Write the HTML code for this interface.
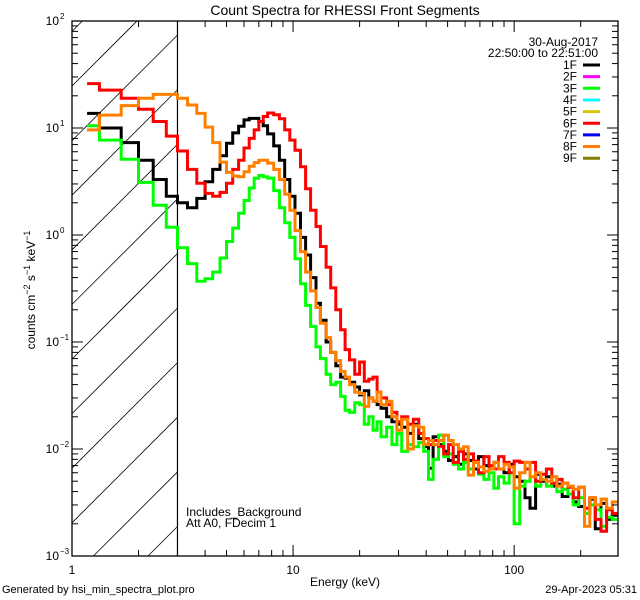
<!DOCTYPE html>
<html><head><meta charset="utf-8"><style>
html,body{margin:0;padding:0;background:#fff;overflow:hidden;}
svg{display:block;font-family:"Liberation Sans",sans-serif;}
</style></head><body>
<svg id="chart" width="640" height="600" viewBox="0 0 640 600" xmlns="http://www.w3.org/2000/svg">
<rect x="0" y="0" width="640" height="600" fill="#fff"/>
<text x="345" y="15" font-size="14" text-anchor="middle">Count Spectra for RHESSI Front Segments</text>
<g id="hatch"></g>
<g id="series"></g>
<g id="axes"></g>
<text x="598" y="46" font-size="12" text-anchor="end">30-Aug-2017</text>
<text x="598" y="57" font-size="12" text-anchor="end">22:50:00 to 22:51:00</text>
<g id="legend"></g>
<text x="186" y="516" font-size="12">Includes_Background</text>
<text x="186" y="527" font-size="12">Att A0, FDecim 1</text>
<text x="345" y="586" font-size="12" text-anchor="middle">Energy (keV)</text>
<text transform="translate(35,290) rotate(-90)" font-size="12" text-anchor="middle">counts cm<tspan dy="-5" font-size="9">−2</tspan><tspan dy="5"> s</tspan><tspan dy="-5" font-size="9">−1</tspan><tspan dy="5"> keV</tspan><tspan dy="-5" font-size="9">−1</tspan></text>
<text x="2" y="593" font-size="11">Generated by hsi_min_spectra_plot.pro</text>
<text x="637" y="593" font-size="11" text-anchor="end">29-Apr-2023 05:31</text>
</svg>
<script>
const edges = [1.17,1.33,1.67,2,2.33,2.67,3,
3.33,3.67,4,4.33,4.67,5,
5.33,5.67,6,6.33,6.67,7,
7.33,7.67,8.17,8.67,9.17,9.67,
10.2,10.8,11.4,12,12.7,13.3,
14.1,14.8,15.6,16.4,17.2,18,
19,20,21,22,23,24,
25,26.5,28,29.5,31,33,
35,37,39,41,43,45.5,
48,50.5,53,56,59,62,
65.5,69,73,77,81,85,
90,95,100,106,112,118,
125,132,140,148,156,165,
175,185,196,208,220,233,
247,262,278,295];
const seg1F = [13.7,10,7.3,5.0,3.3,2.3,
2.0,1.8,2.2,3.15,4.1,5.5,
7.2,9.0,10.4,11.9,12.3,12.3,
11.5,10.5,8.8,6.8,5.0,3.3,
2.3,1.6,0.95,0.65,0.4,0.23,
0.16,0.1,0.08,0.06,0.047,0.046,
0.042,0.038,0.032,0.035,0.03,0.028,
0.026,0.024,0.02,0.018,0.017,0.016,
0.014,0.017,0.0125,0.0105,0.0066,0.013,
0.011,0.0095,0.0078,0.0085,0.0072,0.009,
0.0078,0.0065,0.0085,0.007,0.0065,0.0075,
0.0065,0.006,0.0072,0.0055,0.005,0.0035,
0.0028,0.0058,0.005,0.0055,0.0045,0.0047,
0.0036,0.0038,0.0032,0.0029,0.0025,0.0034,
0.0018,0.0031,0.0022,0.0024];
const seg3F = [10.5,7.7,5.1,3.1,1.9,1.18,
0.76,0.54,0.37,0.39,0.45,0.61,
0.87,1.16,1.6,2.1,2.75,3.4,
3.6,3.5,3.4,2.6,1.8,1.3,
0.95,0.6,0.35,0.22,0.14,0.09,
0.07,0.05,0.04,0.042,0.031,0.023,
0.022,0.027,0.026,0.017,0.02,0.015,
0.018,0.013,0.016,0.011,0.014,0.0095,
0.011,0.0105,0.0115,0.0095,0.0052,0.008,
0.0135,0.0085,0.009,0.0072,0.0065,0.0075,
0.0065,0.0075,0.0058,0.0052,0.006,0.0043,
0.0055,0.0048,0.006,0.002,0.0045,0.005,
0.0055,0.0045,0.0052,0.0045,0.0048,0.004,
0.0042,0.0038,0.003,0.0035,0.0025,0.003,
0.0027,0.0019,0.0023,0.0022];
const seg6F = [26,22.6,19,15,11.5,8.4,
6.1,4.1,3.05,2.45,2.3,2.5,
3.05,4.1,5.0,6.5,8.0,9.6,
11.5,12.8,13.8,13.3,12.2,9.6,
7.7,6.2,4.35,2.7,1.7,1.2,
0.78,0.5,0.32,0.2,0.13,0.085,
0.068,0.05,0.065,0.043,0.045,0.047,
0.034,0.03,0.026,0.022,0.018,0.02,
0.017,0.019,0.014,0.0125,0.011,0.012,
0.0106,0.009,0.011,0.0075,0.0095,0.008,
0.009,0.0077,0.006,0.0085,0.007,0.0065,
0.0085,0.0075,0.006,0.0077,0.0075,0.0065,
0.0075,0.005,0.0058,0.0065,0.0048,0.0052,
0.0048,0.0044,0.0035,0.0044,0.0028,0.0035,
0.0022,0.0017,0.0027,0.0025];
const seg8F = [9.6,13.2,16.2,19,20.6,20.6,
19,16.4,13.7,10.2,7.3,4.8,
3.85,3.55,3.5,3.9,4.4,4.75,
5.0,5.0,4.7,4.1,3.3,2.4,
1.7,1.1,0.7,0.45,0.3,0.21,
0.15,0.11,0.08,0.067,0.053,0.047,
0.04,0.034,0.033,0.025,0.03,0.028,
0.034,0.026,0.028,0.02,0.015,0.019,
0.01,0.0165,0.016,0.011,0.012,0.011,
0.012,0.0135,0.012,0.011,0.01,0.0105,
0.0057,0.0075,0.0068,0.0062,0.0065,0.0075,
0.0065,0.0072,0.0068,0.0043,0.006,0.0075,
0.0055,0.006,0.0052,0.005,0.0055,0.0045,
0.0048,0.0045,0.0042,0.0044,0.0019,0.0035,
0.003,0.0034,0.0028,0.0032];
const legendLabels = ["1F","2F","3F","4F","5F","6F","7F","8F","9F"];
const legendColors = ["#000000","#ff00ff","#00ff00","#00ffff","#d4c800","#ff0000","#0000ff","#ff8000","#808000"];
const yTickExps = [2,1,0,-1,-2,-3];
const xTickLabels = [1,10,100];

const NS="http://www.w3.org/2000/svg";
const L=72,R=618,T=21,B=556;
const XMIN=1, XMAX=295, YMIN=-3, YMAX=2;
const decX=(R-L)/Math.log10(XMAX/XMIN);
function xs(e){return L+decX*Math.log10(e/XMIN);}
function ys(v){return T+(B-T)*(YMAX-Math.log10(v))/(YMAX-YMIN);}
function mk(tag,attrs,parent){const el=document.createElementNS(NS,tag);for(const k in attrs)el.setAttribute(k,attrs[k]);parent.appendChild(el);return el;}

// hatch: 45-degree lines clipped analytically to the box
const hatch=document.getElementById('hatch');
const hx=xs(3);
for(let k=-1;k<=12;k++){
  const c=86+54.6*k; // y = c - (x - L)
  let x1=L, y1=c;
  if(y1>B){x1=L+(y1-B); y1=B;}
  let x2=hx, y2=c-(hx-L);
  if(y2<T){x2=L+(c-T); y2=T;}
  if(x1>=x2) continue;
  const ln=mk('line',{x1:x1,y1:y1,x2:x2,y2:y2,stroke:'#000','stroke-width':0.8},hatch);
  
  
}
const vline=mk('line',{x1:hx,y1:T,x2:hx,y2:B,stroke:'#000','stroke-width':1.2},hatch);



// series
const sg=document.getElementById('series');
function step(vals,color,name){
  let d='M'+xs(edges[0]).toFixed(1)+' '+ys(vals[0]).toFixed(1);
  for(let i=0;i<vals.length;i++){
    if(i>0)d+=' V'+ys(vals[i]).toFixed(1);
    d+=' H'+Math.min(xs(edges[i+1]),R).toFixed(1);
  }
  const p=mk('path',{d:d,fill:'none',stroke:color,'stroke-width':3,'stroke-linejoin':'miter'},sg);
  
  
}
step(seg1F,'#000000','series-1f');
step(seg3F,'#00ff00','series-3f');
step(seg6F,'#ff0000','series-6f');
step(seg8F,'#ff8000','series-8f');

// axes
const ax=document.getElementById('axes');
const frame=mk('rect',{x:L,y:T,width:R-L,height:B-T,fill:'none',stroke:'#000','stroke-width':1.3},ax);


for(let dcd=1;dcd<=100;dcd*=10){
  for(let m=1;m<=9;m++){
    const e=dcd*m; if(e>XMAX)break;
    const x=xs(e), len=(m===1)?11:6;
    mk('line',{x1:x,y1:B,x2:x,y2:B-len,stroke:'#000','stroke-width':1},ax);
    mk('line',{x1:x,y1:T,x2:x,y2:T+len,stroke:'#000','stroke-width':1},ax);
  }
}
xTickLabels.forEach(v=>{
  const t=mk('text',{x:xs(v),y:574,'font-size':12,'text-anchor':'middle'},ax);
  t.textContent=String(v);
  
  
});
for(let p=YMIN;p<YMAX;p++){
  for(let m=1;m<=9;m++){
    const y=ys(m*Math.pow(10,p)), len=(m===1)?11:6;
    mk('line',{x1:L,y1:y,x2:L+len,y2:y,stroke:'#000','stroke-width':1},ax);
    mk('line',{x1:R,y1:y,x2:R-len,y2:y,stroke:'#000','stroke-width':1},ax);
  }
}
yTickExps.forEach(p=>{
  const y=ys(Math.pow(10,p));
  const t=mk('text',{x:59,y:y+4,'font-size':12,'text-anchor':'end'},ax);
  t.textContent='10';
  
  
  const s=mk('text',{x:60,y:y-2,'font-size':8,'text-anchor':'start'},ax);
  s.textContent=(p<0?'−':'')+Math.abs(p);
  
  
});

// legend
const lg=document.getElementById('legend');
legendLabels.forEach((lab,i)=>{
  const y=65+11.65*i;
  const t=mk('text',{x:577,y:y+4,'font-size':12,'text-anchor':'end'},lg);
  t.textContent=lab;
  
  
  const l=mk('line',{x1:583,y1:y,x2:600,y2:y,stroke:legendColors[i],'stroke-width':3},lg);
  
  
});
</script>
</body></html>
